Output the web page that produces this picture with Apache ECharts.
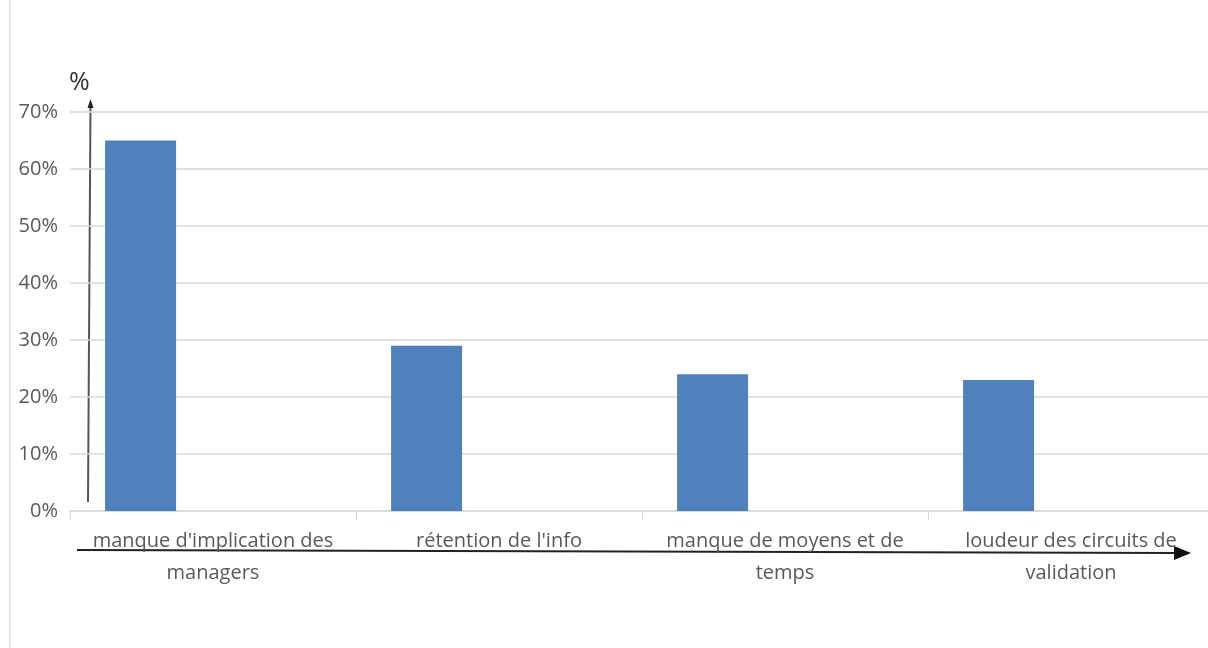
<!DOCTYPE html>
<html><head><meta charset="utf-8">
<script src="https://cdn.jsdelivr.net/npm/echarts@6/dist/echarts.min.js"></script>
<style>html,body{margin:0;padding:0;background:#fff}#c{width:1208px;height:648px}</style>
</head><body><div id="c"></div>
<script>
const categories = ["manque d'implication des\nmanagers", "rétention de l'info", "manque de moyens et de\ntemps", "loudeur des circuits de\nvalidation"];
const values = [65, 29, 24, 23];
const yTicks = [0, 10, 20, 30, 40, 50, 60, 70];

const chart = echarts.init(document.getElementById('c'));
chart.setOption({
  animation: false,
  backgroundColor: '#fff',
  grid: {left: 70, width: 1144, top: 112, bottom: 137, outerBoundsMode: 'none', containLabel: false},
  xAxis: {
    type: 'category', data: categories,
    axisLine: {lineStyle: {color: '#d9d9d9', width: 1.5}},
    axisTick: {show: true, length: 9, lineStyle: {color: '#d9d9d9'}},
    axisLabel: {color: '#595959', fontFamily: 'Open Sans', fontSize: 20, lineHeight: 32, margin: 14, interval: 0}
  },
  yAxis: {
    type: 'value', min: 0, max: 70, interval: 10,
    axisLine: {show: false}, axisTick: {show: false},
    splitLine: {lineStyle: {color: '#d9d9d9', width: 1.5}},
    axisLabel: {color: '#595959', fontFamily: 'Open Sans', fontSize: 20, margin: 12,
      formatter: v => yTicks.includes(v) ? v + '%' : ''}
  },
  series: [
    {type: 'bar', data: values, barWidth: 71, barGap: '104%', itemStyle: {color: '#4f81bd'}},
    {type: 'bar', data: values.map(() => null), barWidth: 71}
  ],
  graphic: [
    {type: 'line', shape: {x1: 10, y1: 0, x2: 10, y2: 648}, style: {stroke: '#e6e6e6', lineWidth: 2}, silent: true},
    {type: 'line', shape: {x1: 88, y1: 502, x2: 90.5, y2: 104}, style: {stroke: '#555', lineWidth: 2}},
    {type: 'polygon', shape: {points: [[87.5, 108], [93.5, 108], [90.5, 99]]}, style: {fill: '#222'}},
    {type: 'text', left: 69, top: 70, style: {text: '%', font: '25px "Open Sans"', fill: '#333'}},
    {type: 'line', shape: {x1: 77, y1: 550, x2: 1178, y2: 553}, style: {stroke: '#222', lineWidth: 2}},
    {type: 'polygon', shape: {points: [[1174, 546], [1191, 553], [1174, 560]]}, style: {fill: '#111'}}
  ]
});
</script></body></html>
